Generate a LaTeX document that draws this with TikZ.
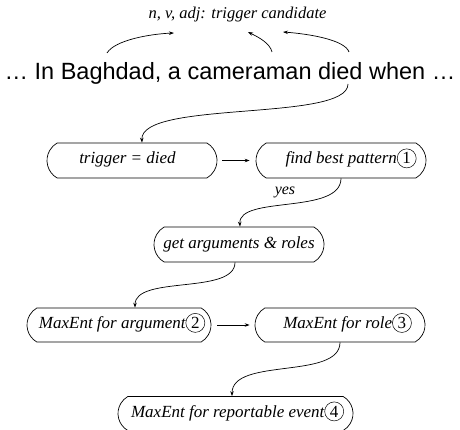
\documentclass[tikz,border=0pt]{standalone}
\usepackage{fontspec}
\setmainfont{Liberation Serif}
\newfontfamily\sentfont{Liberation Sans}
\usetikzlibrary{shapes.misc,arrows.meta}
% circled step number set on the text baseline
\newcommand\cnum[1]{\tikz[baseline=(cn.base)]\node[circle,draw,line width=0.5pt,minimum size=19pt,inner sep=0pt,font=\upshape\fontsize{17}{17}\selectfont](cn){#1};}
\begin{document}
\begin{tikzpicture}[x=1pt,y=-1pt,
  box/.style={rounded rectangle, rounded rectangle arc length=120, draw, line width=0.7pt,
    minimum width=174pt, minimum height=35pt, inner xsep=2pt, inner ysep=0pt,
    text height=11pt, text depth=4pt, font=\itshape\fontsize{17}{20}\selectfont},
  arr/.style={-{Stealth[length=5pt,width=3.5pt]}, line width=0.7pt}]
\useasboundingbox (0,0) rectangle (460,430);

% sentence and candidate label
\node[font=\itshape\fontsize{16.5}{18}\selectfont, anchor=base, inner sep=0pt] (cand) at (237.5,19) {n, v, adj: trigger candidate};
\node[font=\sentfont\fontsize{23.5}{26}\selectfont, anchor=base, inner sep=0pt] (sent) at (230,80) {… In Baghdad, a cameraman died when …};

\coordinate (s1) at (107,53); \coordinate (c1) at (174,33);
\coordinate (s2) at (272,52); \coordinate (c2) at (248,32);
\coordinate (s3) at (349,52); \coordinate (c3) at (283,32);
\coordinate (d1) at (348,84);
\draw[arr] (s1) .. controls (115,40) and (150,34) .. (c1);
\draw[arr] (s2) .. controls (270,43) and (258,37) .. (c2);
\draw[arr] (s3) .. controls (345,40) and (310,34) .. (c3);

% pipeline boxes
\node[box] (trig) at (132,160.5) {trigger = died\hspace*{9pt}};
\node[box] (find) at (341,160.5) {\hspace*{20pt}find best pattern\cnum{1}};
\node[box] (get)  at (239,244.5) {get arguments \& roles};
\node[box, minimum width=188pt, minimum height=34pt] (arg)  at (119,325) {\hspace*{6pt}MaxEnt for argument\cnum{2}};
\node[box, minimum height=34pt] (role) at (340,325) {\hspace*{15pt}MaxEnt for role\cnum{3}};
\node[box, minimum width=239pt, minimum height=34pt] (rep) at (235.5,413.5) {\hspace*{4pt}MaxEnt for reportable event\cnum{4}};

\node[font=\itshape\fontsize{16}{18}\selectfont, anchor=base, inner sep=0pt] (yes) at (285,195) {yes};

% connectors
\draw[arr] (d1) .. controls (348,122) and (140,100) .. ([xshift=10pt]trig.north);
\draw[arr] ([xshift=5pt]trig.east) -- ([xshift=-6pt]find.west);
\draw[arr] (find.south) .. controls (341,215) and (238,195) .. ([xshift=1pt]get.north);
\draw[arr] ([xshift=-4pt]get.south) .. controls (235,295) and (135,275) .. ([xshift=16pt]arg.north);
\draw[arr] ([xshift=6pt]arg.east) -- ([xshift=-5pt]role.west);
\draw[arr] (role.south) .. controls (340,380) and (232,357) .. ([xshift=-3.5pt]rep.north);
\end{tikzpicture}
\end{document}
